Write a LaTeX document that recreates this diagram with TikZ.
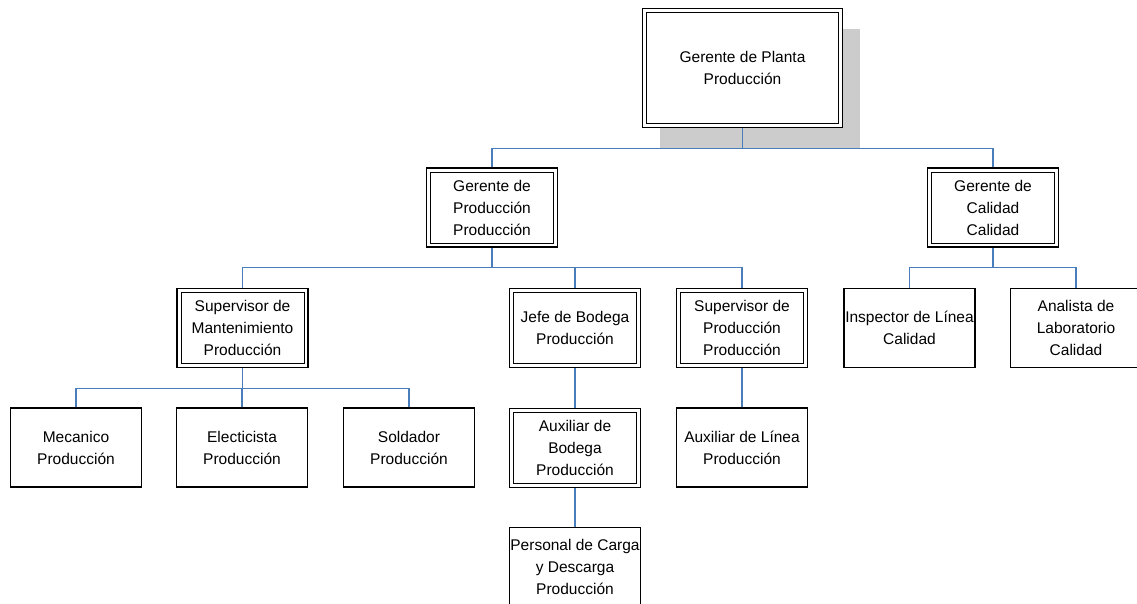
\documentclass[tikz,border=0pt]{standalone}
\usepackage{fontspec}
\setmainfont{Liberation Sans}
\usetikzlibrary{shadows}
\definecolor{lineBlue}{HTML}{4A7EBB}
\begin{document}
\begin{tikzpicture}
[x=1pt,y=-1pt,
  boxSingle/.style={shape=rectangle,draw,fill=white,line width=1.2pt,inner sep=0pt,
    minimum width=131pt,minimum height=79pt,align=center,
    font=\fontsize{15.5}{22}\selectfont},
  boxDouble/.style={boxSingle,line width=1.6pt,
    path picture={\draw[line width=0.8pt]
      ([xshift=4pt,yshift=-4pt]path picture bounding box.north west) rectangle
      ([xshift=-4pt,yshift=4pt]path picture bounding box.south east);}},
  lineDecorate/.style={draw=lineBlue,line width=1.1pt}]
\useasboundingbox (0,0) rectangle (1137,603);
%% top node with its shadow
\node (top) at (742.5,68) [boxDouble,minimum width=200pt,minimum height=119pt,
  drop shadow={shadow xshift=17pt,shadow yshift=-20pt,fill=black!20,opacity=1}]
  {Gerente de Planta\\Producción};
%% double framed nodes
\foreach \nodename/\x/\y/\txt in {
  gprod/492/207.5/{Gerente de\\Producción\\Producción},
  gcal/993/207.5/{Gerente de\\Calidad\\Calidad},
  smant/242.5/328/{Supervisor de\\Mantenimiento\\Producción},
  jbod/575/328/{Jefe de Bodega\\Producción},
  sprod/742/328/{Supervisor de\\Producción\\Producción},
  abod/575/448/{Auxiliar de\\Bodega\\Producción}}
{
  \node (\nodename) at (\x,\y) [boxDouble] {\txt};
}
%% single framed nodes
\foreach \nodename/\x/\y/\txt in {
  insp/909.5/328/{Inspector de Línea\\Calidad},
  anal/1076/328/{Analista de\\Laboratorio\\Calidad},
  meca/76/447.5/{Mecanico\\Producción},
  elec/242/447.5/{Electicista\\Producción},
  sold/409/447.5/{Soldador\\Producción},
  alin/742/447.5/{Auxiliar de Línea\\Producción},
  pers/575/567/{Personal de Carga\\y Descarga\\Producción}}
{
  \node (\nodename) at (\x,\y) [boxSingle] {\txt};
}
%% connectors
\foreach \startnode/\endnode in {
  top/gprod, top/gcal, gprod/smant, gprod/jbod, gprod/sprod,
  gcal/insp, gcal/anal, smant/meca, smant/elec, smant/sold,
  jbod/abod, abod/pers, sprod/alin}
{
  \draw[lineDecorate] (\startnode.south) -- ++(0,20) -| (\endnode.north);
}
\end{tikzpicture}
\end{document}
